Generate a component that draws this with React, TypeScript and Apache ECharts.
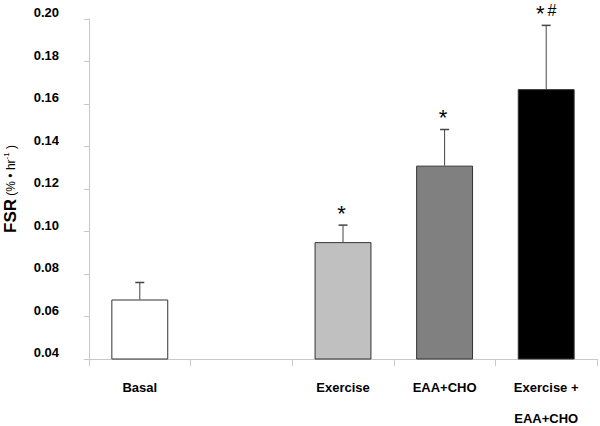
import React, { useEffect, useRef } from "react";
import * as echarts from "echarts";

const categories = ["Basal", "", "Exercise", "EAA+CHO", "Exercise +\nEAA+CHO"];
const means: (number | null)[] = [0.068, null, 0.095, 0.131, 0.167];
const errors: (number | null)[] = [0.008, null, 0.008, 0.017, 0.030];
const markers: string[] = ["", "", "*", "*", "*#"];
const yTicks = { min: 0.04, max: 0.2, step: 0.02 };

const barColors = ["#ffffff", "#ffffff", "#c0c0c0", "#808080", "#000000"];
const FONT = "Arial, 'Liberation Sans', sans-serif";

export default function App() {
  const ref = useRef<HTMLDivElement>(null);
  useEffect(() => {
    if (!ref.current) return;
    const chart = echarts.init(ref.current, undefined, { renderer: "svg" });
    const errData = means
      .map((m, i) => (m == null ? null : [i, m, errors[i] as number]))
      .filter((d) => d != null);
    chart.setOption({
      animation: false,
      grid: { left: 89, right: 3, top: 19, bottom: 67, outerBoundsMode: "none", containLabel: false },
      xAxis: {
        type: "category",
        data: categories,
        axisLine: { lineStyle: { color: "#c8c8c8", width: 1 } },
        axisTick: { show: true, length: 7, interval: 0, lineStyle: { color: "#c8c8c8" } },
        axisLabel: {
          interval: 0,
          color: "#000",
          fontFamily: FONT,
          fontWeight: "bold",
          fontSize: 13,
          lineHeight: 31,
          margin: 13,
          verticalAlign: "top",
        },
      },
      yAxis: {
        type: "value",
        min: yTicks.min,
        max: yTicks.max,
        interval: yTicks.step,
        splitLine: { show: false },
        axisLine: { show: true, lineStyle: { color: "#c8c8c8", width: 1 } },
        axisTick: { show: true, length: 5, lineStyle: { color: "#c8c8c8" } },
        axisLabel: {
          color: "#000",
          fontFamily: FONT,
          fontWeight: "bold",
          fontSize: 13,
          margin: 30,
          verticalAlign: "bottom",
          formatter: (v: number) => v.toFixed(2),
        },
        name: "{fsr|FSR}{u| (% • hr}{sup|-1}{u| )}",
        nameLocation: "middle",
        nameRotate: 90,
        nameGap: 70,
        nameTextStyle: {
          fontFamily: FONT,
          color: "#000",
          rich: {
            fsr: { fontSize: 17, fontWeight: "bold", fontFamily: FONT, color: "#000" },
            u: { fontSize: 12, fontFamily: FONT, color: "#000" },
            sup: { fontSize: 8, fontFamily: FONT, color: "#000", verticalAlign: "top", padding: [0, 0, 6, 0] },
          },
        },
      },
      series: [
        {
          type: "bar",
          barWidth: "56%",
          data: means.map((m, i) => ({
            value: m,
            itemStyle: { color: barColors[i], borderColor: "#333", borderWidth: 1 },
          })),
          z: 2,
        },
        {
          type: "custom",
          z: 3,
          data: errData,
          renderItem: (params: any, api: any) => {
            const idx = api.value(0);
            const m = api.value(1);
            const e = api.value(2);
            const mk = markers[idx];
            const base = api.coord([idx, m]);
            const top = api.coord([idx, m + e]);
            const half = 4.5;
            const children: any[] = [
              {
                type: "line",
                shape: { x1: base[0], y1: base[1], x2: top[0], y2: top[1] },
                style: { stroke: "#444", lineWidth: 1 },
              },
              {
                type: "line",
                shape: { x1: top[0] - half, y1: top[1], x2: top[0] + half, y2: top[1] },
                style: { stroke: "#444", lineWidth: 1.5 },
              },
            ];
            if (mk) {
              const text = mk
                .split("")
                .map((c: string) => (c === "*" ? "{s|*}" : "{h|#}"))
                .join("");
              children.push({
                type: "text",
                x: top[0],
                y: top[1] - 15,
                style: {
                  text,
                  align: "center",
                  verticalAlign: "middle",
                  rich: {
                    s: { fontSize: 22, fontFamily: FONT, fill: "#000", padding: [6, 3, 0, 0] },
                    h: { fontSize: 16, fontFamily: FONT, fill: "#000" },
                  },
                },
              });
            }
            return { type: "group", children };
          },
        },
      ],
    });
    return () => chart.dispose();
  }, []);
  return <div ref={ref} style={{ width: 600, height: 426, position: "absolute", left: 0, top: 0 }} />;
}
